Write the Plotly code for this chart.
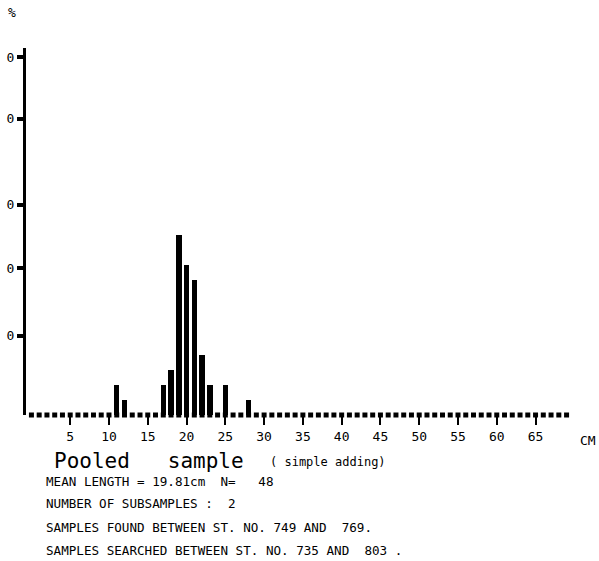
import plotly.graph_objects as go

# Length classes (cm) with counts, N = 48
lengths = [11, 12, 17, 18, 19, 20, 21, 22, 23, 25, 28]
counts = [2, 1, 2, 3, 12, 10, 9, 4, 2, 2, 1]
n_total = 48
percent = [c / n_total * 100 for c in counts]

# all length classes on the axis (empty classes shown as dots on baseline)
all_classes = list(range(0, 71))

x_tick_vals = [5, 10, 15, 20, 25, 30, 35, 40, 45, 50, 55, 60, 65]
x_tick_text = [str(v) for v in x_tick_vals]
y_tick_vals = [11, 20.4, 29.2, 41.2, 49.7]
y_tick_text = ["0", "0", "0", "0", "0"]

title_text = "Pooled   sample"
subtitle_text = "( simple adding)"
info_lines = [
    "MEAN LENGTH = 19.81cm  N=   48",
    "NUMBER OF SUBSAMPLES :  2",
    "SAMPLES FOUND BETWEEN ST. NO. 749 AND  769.",
    "SAMPLES SEARCHED BETWEEN ST. NO. 735 AND  803 .",
]

MONO = "DejaVu Sans Mono"
L, R, T, B = 26, 27, 48, 146
W, H = 599, 561

fig = go.Figure()
fig.add_trace(go.Scatter(
    x=all_classes, y=[0] * len(all_classes), mode="markers",
    marker=dict(symbol="square", size=5, color="black"),
    hoverinfo="skip", showlegend=False, cliponaxis=False,
))
fig.add_trace(go.Bar(
    x=lengths, y=percent, width=0.7, marker=dict(color="black", line=dict(width=0)),
    showlegend=False,
))

fig.update_layout(
    width=W, height=H,
    margin=dict(l=L, r=R, t=T, b=B, autoexpand=False),
    paper_bgcolor="white", plot_bgcolor="white",
    font=dict(family=MONO, color="black", size=12),
    bargap=0,
)
fig.update_xaxes(
    range=[-0.7, 69.7], showgrid=False, zeroline=False, showline=False,
    tickmode="array", tickvals=x_tick_vals, ticktext=x_tick_text,
    ticks="outside", ticklen=9, tickwidth=2, tickcolor="black",
    tickfont=dict(family=MONO, size=13, color="black"), fixedrange=True, automargin=False,
)
fig.update_yaxes(
    range=[0, 51], showgrid=False, zeroline=False,
    showline=True, linewidth=3, linecolor="black",
    tickmode="array", tickvals=y_tick_vals, ticktext=y_tick_text,
    ticks="outside", ticklen=6, tickwidth=4, tickcolor="black",
    tickfont=dict(family=MONO, size=13, color="black"), fixedrange=True, automargin=False,
)

annotations = [
    dict(text="%", x=12, y=12, font=dict(family=MONO, size=13, color="black")),
    dict(text="CM", x=588, y=440, font=dict(family=MONO, size=13, color="black")),
    dict(text=title_text, x=52, y=461, xanchor="left",
         font=dict(family=MONO, size=21, color="black")),
    dict(text=subtitle_text, x=268, y=462, xanchor="left",
         font=dict(family=MONO, size=12, color="black")),
]
line_y = [481, 504, 527, 550]
for t, yy in zip(info_lines, line_y):
    annotations.append(dict(text=t, x=44, y=yy, xanchor="left",
                            font=dict(family=MONO, size=12.6, color="black")))

for a in annotations:
    a.setdefault("xanchor", "center")
    a["xref"] = "paper"
    a["yref"] = "paper"
    # convert pixel positions to paper coordinates
    px, py = a["x"], a["y"]
    a["x"] = (px - L) / (W - L - R)
    a["y"] = (H - B - py) / (H - T - B)
    a["yanchor"] = "middle"
    a["showarrow"] = False
fig.update_layout(annotations=annotations)

fig.write_html(
    "out.html",
    config={"displayModeBar": False, "staticPlot": True},
    post_script="document.body.style.margin='0';document.body.style.overflow='hidden';",
)
